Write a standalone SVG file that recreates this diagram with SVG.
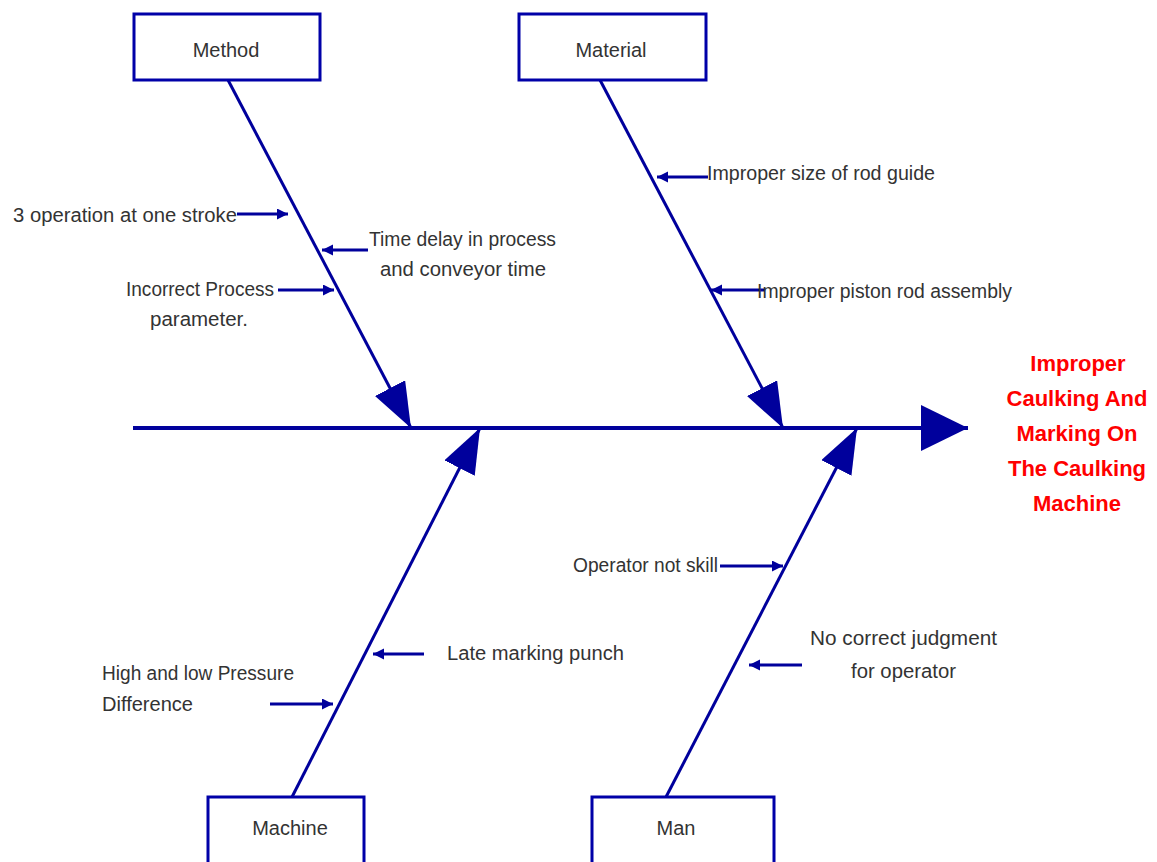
<svg xmlns="http://www.w3.org/2000/svg" width="1157" height="862" viewBox="0 0 1157 862">
<style>
.box{fill:#fff;stroke:#0000a8;stroke-width:3}
.bone{stroke:#00009c;stroke-width:3;fill:none}
.spine{stroke:#00009c;stroke-width:4;fill:none}
.sub{stroke:#00009c;stroke-width:3;fill:none}
.t{font-family:"Liberation Sans",Arial,sans-serif;font-size:20px;fill:#333}
.c{text-anchor:middle}
.title{font-family:"Liberation Sans",Arial,sans-serif;font-size:22px;font-weight:bold;fill:#ff0000;text-anchor:middle}
</style>
<defs>
<marker id="big" markerUnits="userSpaceOnUse" markerWidth="46" markerHeight="36" refX="45" refY="17" orient="auto">
<path d="M0,0 L45,17 L0,34 z" fill="#00009c"/>
</marker>
<marker id="head" markerUnits="userSpaceOnUse" markerWidth="48" markerHeight="48" refX="47" refY="23" orient="auto">
<path d="M0,0 L47,23 L0,46 z" fill="#00009c"/>
</marker>
<marker id="small" markerUnits="userSpaceOnUse" markerWidth="12" markerHeight="12" refX="11" refY="5.5" orient="auto">
<path d="M0,0 L11,5.5 L0,11 z" fill="#00009c"/>
</marker>
</defs>
<rect width="1157" height="862" fill="#fff"/>
<g id="connectors">
<line class="spine" x1="133" y1="428" x2="968" y2="428" marker-end="url(#head)"/>
<line class="bone" x1="228" y1="80" x2="411" y2="428" marker-end="url(#big)"/>
<line class="bone" x1="600" y1="80" x2="783" y2="428" marker-end="url(#big)"/>
<line class="bone" x1="292" y1="797" x2="480" y2="428" marker-end="url(#big)"/>
<line class="bone" x1="666" y1="797" x2="857" y2="428" marker-end="url(#big)"/>
<line class="sub" x1="237" y1="214" x2="288" y2="214" marker-end="url(#small)"/>
<line class="sub" x1="368" y1="250" x2="322" y2="250" marker-end="url(#small)"/>
<line class="sub" x1="278" y1="290" x2="334" y2="290" marker-end="url(#small)"/>
<line class="sub" x1="708" y1="177" x2="657" y2="177" marker-end="url(#small)"/>
<line class="sub" x1="765" y1="290" x2="711" y2="290" marker-end="url(#small)"/>
<line class="sub" x1="720" y1="566" x2="783" y2="566" marker-end="url(#small)"/>
<line class="sub" x1="802" y1="665" x2="749" y2="665" marker-end="url(#small)"/>
<line class="sub" x1="424" y1="654" x2="373" y2="654" marker-end="url(#small)"/>
<line class="sub" x1="270" y1="704" x2="333" y2="704" marker-end="url(#small)"/>
</g>
<g id="method"><rect class="box" x="134" y="14" width="186" height="66"/><text class="t c" x="226" y="57">Method</text></g>
<g id="material"><rect class="box" x="519" y="14" width="187" height="66"/><text class="t c" x="611" y="57">Material</text></g>
<g id="machine"><rect class="box" x="208" y="797" width="156" height="70"/><text class="t c" x="290" y="835">Machine</text></g>
<g id="man"><rect class="box" x="592" y="797" width="182" height="70"/><text class="t c" x="676" y="835">Man</text></g>
<g id="effect">
<text class="title" x="1078" y="371">Improper</text>
<text class="title" x="1077" y="406">Caulking And</text>
<text class="title" x="1077" y="441">Marking On</text>
<text class="title" x="1077" y="476">The Caulking</text>
<text class="title" x="1077" y="511">Machine</text>
</g>
<g id="cause-3op"><text class="t" x="13" y="222" textLength="224" lengthAdjust="spacingAndGlyphs">3 operation at one stroke</text></g>
<g id="cause-timedelay"><text class="t" x="369" y="246" textLength="187" lengthAdjust="spacingAndGlyphs">Time delay in process</text><text class="t" x="380" y="276" textLength="166" lengthAdjust="spacingAndGlyphs">and conveyor time</text></g>
<g id="cause-incorrect"><text class="t" x="126" y="296" textLength="148" lengthAdjust="spacingAndGlyphs">Incorrect Process</text><text class="t" x="150" y="326" textLength="98" lengthAdjust="spacingAndGlyphs">parameter.</text></g>
<g id="cause-rodguide"><text class="t" x="707" y="180" textLength="228" lengthAdjust="spacingAndGlyphs">Improper size of rod guide</text></g>
<g id="cause-piston"><text class="t" x="757" y="298" textLength="255" lengthAdjust="spacingAndGlyphs">Improper piston rod assembly</text></g>
<g id="cause-skill"><text class="t" x="573" y="572" textLength="145" lengthAdjust="spacingAndGlyphs">Operator not skill</text></g>
<g id="cause-judgment"><text class="t" x="810" y="645" textLength="187" lengthAdjust="spacingAndGlyphs">No correct judgment</text><text class="t" x="851" y="678" textLength="105" lengthAdjust="spacingAndGlyphs">for operator</text></g>
<g id="cause-punch"><text class="t" x="447" y="660" textLength="177" lengthAdjust="spacingAndGlyphs">Late marking punch</text></g>
<g id="cause-pressure"><text class="t" x="102" y="680" textLength="192" lengthAdjust="spacingAndGlyphs">High and low Pressure</text><text class="t" x="102" y="711" textLength="91" lengthAdjust="spacingAndGlyphs">Difference</text></g>
</svg>
